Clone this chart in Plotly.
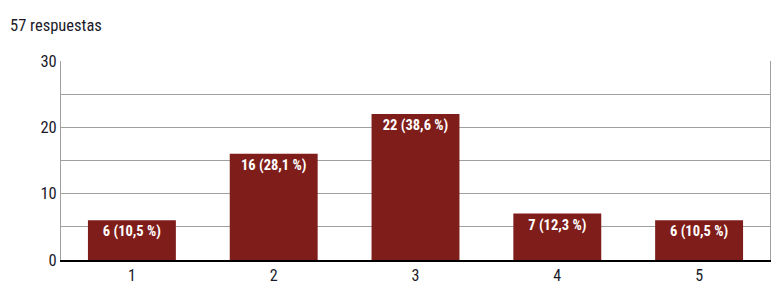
import plotly.graph_objects as go

categories = ["1", "2", "3", "4", "5"]
counts = [6, 16, 22, 7, 6]
labels = ["6 (10,5 %)", "16 (28,1 %)", "22 (38,6 %)", "7 (12,3 %)", "6 (10,5 %)"]
title_text = "57 respuestas"

FONT = "Roboto Condensed, Liberation Sans Narrow, DejaVu Sans Condensed, Roboto, sans-serif"

fig = go.Figure(go.Bar(
    x=categories, y=counts, text=labels,
    textposition="inside", insidetextanchor="end", textangle=0,
    textfont=dict(family=FONT, size=14.5, color="white", weight="bold"),
    marker=dict(color="#7f1d1a", line=dict(width=0)),
    width=0.62,
))
fig.update_layout(
    width=783, height=297,
    margin=dict(l=61, r=13, t=61, b=35),
    paper_bgcolor="white", plot_bgcolor="white",
    font=dict(family=FONT, size=16, color="#1a1a2a"),
    showlegend=False,
    uniformtext=dict(mode=False),
)
fig.update_layout(annotations=[dict(text=title_text, x=-53/709, y=1 + 36/201, xref="paper", yref="paper",
                      xanchor="left", yanchor="middle", showarrow=False,
                      font=dict(family=FONT, size=16.5, color="#1a1a2a"))])
fig.update_xaxes(showline=True, linecolor="black", linewidth=1.5, showgrid=False,
                 ticks="", tickfont=dict(size=16))
fig.update_yaxes(range=[0, 30], dtick=10, showgrid=True, gridcolor="#a0a0a0", gridwidth=1,
                 showline=True, linecolor="#a0a0a0", mirror=True, zeroline=False,
                 ticks="", tickfont=dict(size=16.5), minor=dict(dtick=5, showgrid=True, gridcolor="#a0a0a0"))
fig.write_html("out.html")
